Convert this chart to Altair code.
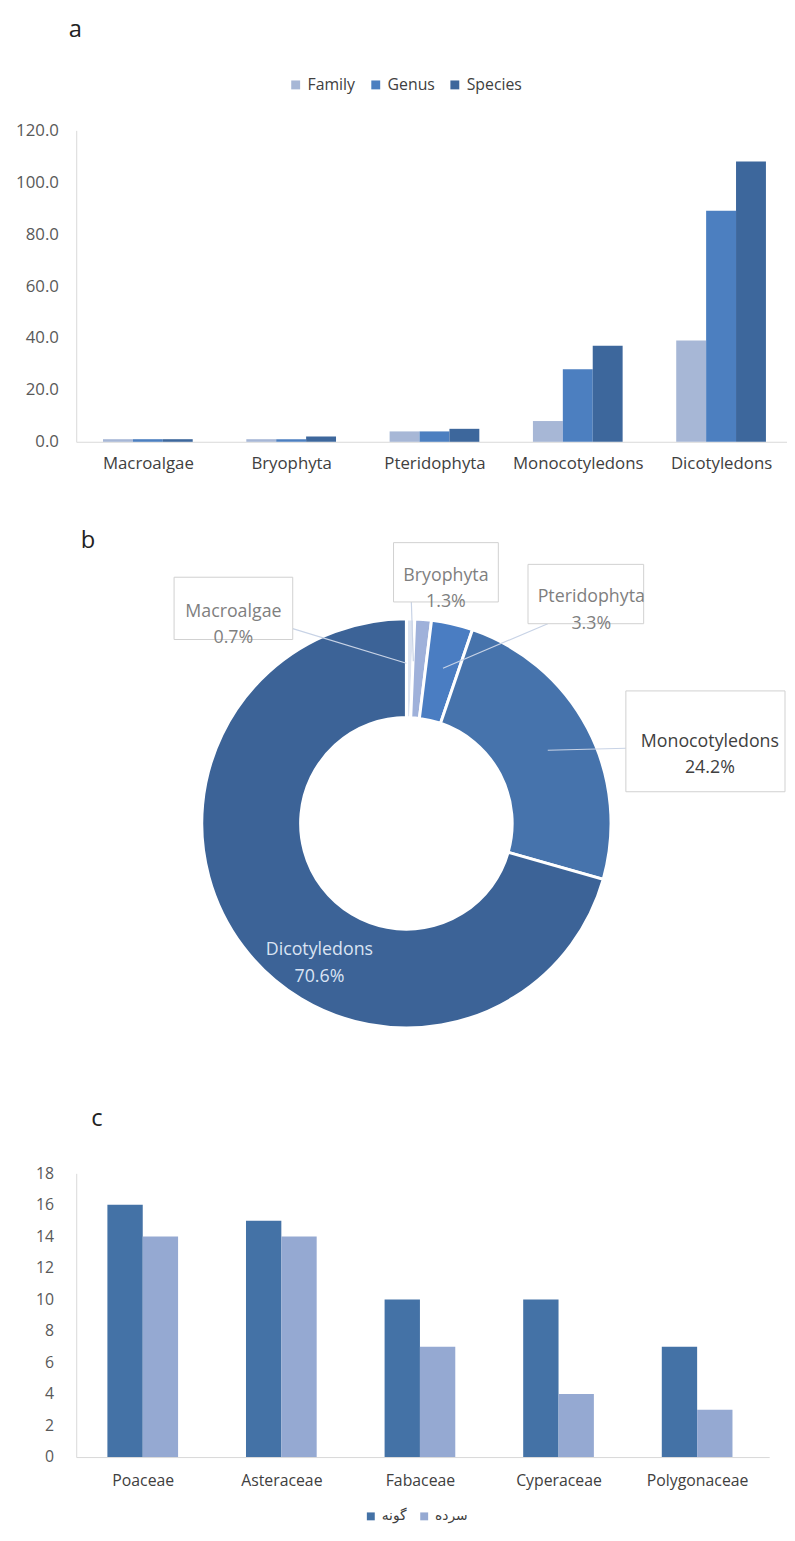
import json
import altair as alt
import pandas as pd

# ---------------- data ----------------
taxa = ["Macroalgae", "Bryophyta", "Pteridophyta", "Monocotyledons", "Dicotyledons"]
family_counts = [1, 1, 4, 8, 39]
genus_counts = [1, 1, 4, 28, 89]
species_counts = [1, 2, 5, 37, 108]
series_a = ["Family", "Genus", "Species"]
yticks_a = [0, 20, 40, 60, 80, 100, 120]

families_c = ["Poaceae", "Asteraceae", "Fabaceae", "Cyperaceae", "Polygonaceae"]
species_c = [16, 15, 10, 10, 7]
genera_c = [14, 14, 7, 4, 3]
series_c = ["گونه", "سرده"]
yticks_c = [0, 2, 4, 6, 8, 10, 12, 14, 16, 18]

# ---------------- styles ----------------
FONT = "Open Sans"
colors_a = ["#a7b7d6", "#4c7fc0", "#3d679c"]
colors_c = ["#4472a6", "#95a9d2"]
donut_colors = ["#dce3f0", "#9fb1da", "#4a7dc2", "#4673ac", "#3c6397"]
label_colors = ["#7f7f7f", "#7f7f7f", "#7f7f7f", "#404040", "#dae3f3"]
AXIS_GRAY = "#d9d9d9"

W_A, H_A = 719, 315
W_B, H_B = 719, 700
W_C, H_C = 701, 287
GROUP_A = 0.626   # fraction of each category slot covered by its bar group
GROUP_C = 0.51

# donut annotation layout (pixels inside panel b)
donut_cx, donut_cy = 334, 366
label_x = [159, 374, 521, 641, 246]
label_y = [152, 115.5, 137, 283.5, 494.5]
box_x1 = [99, 321, 457, 556]
box_x2 = [219, 427, 574, 717]
box_y1 = [117, 82, 104, 232]
box_y2 = [180, 142, 164, 334]
lead_x1 = [219, 339, 477, 556]
lead_y1 = [169, 142, 164, 290]
lead_x2 = [334, 341, 371, 477]
lead_y2 = [204, 202, 209, 292]


def letter(t, x, y):
    return alt.Chart(pd.DataFrame({"t": [t]})).mark_text(
        fontSize=24, font=FONT, color="#222222", align="center", baseline="middle"
    ).encode(text="t:N", x=alt.value(x), y=alt.value(y))


def grouped_bars(df, cats, series, colors, group_frac, dom, x_axis, y_enc, legend):
    n_s = len(series)
    bw = group_frac / n_s
    pad = (1 - group_frac) / 2
    return alt.Chart(df).transform_calculate(
        xs=f"datum.ci + {pad} + datum.si * {bw}",
        xe=f"datum.ci + {pad} + (datum.si + 1) * {bw}",
    ).mark_bar().encode(
        x=alt.X("xs:Q", scale=alt.Scale(domain=dom, nice=False, zero=False),
                axis=alt.Axis(values=[i + 0.5 for i in range(len(cats))],
                              labelExpr=f"{json.dumps(cats)}[floor(datum.value)]",
                              **x_axis)),
        x2="xe:Q",
        y=y_enc,
        y2=alt.datum(0),
        color=alt.Color("series:N", sort=series,
                        scale=alt.Scale(domain=series, range=colors), legend=legend),
    )


# ---------------- panel a ----------------
rows_a = []
for si, (s, vals) in enumerate(zip(series_a, [family_counts, genus_counts, species_counts])):
    for ci, (t, v) in enumerate(zip(taxa, vals)):
        rows_a.append({"taxon": t, "series": s, "value": v, "ci": ci, "si": si})
df_a = pd.DataFrame(rows_a)

bars_a = grouped_bars(
    df_a, taxa, series_a, colors_a, GROUP_A, [0.0, 4.96],
    dict(title=None, labelAngle=0, ticks=False, grid=False, labelFontSize=17,
         labelPadding=14, domainColor=AXIS_GRAY, labelColor="#404040", labelFont=FONT,
         labelOverlap=False),
    alt.Y("value:Q", scale=alt.Scale(domain=[0, 120], nice=False),
          axis=alt.Axis(title=None, values=yticks_a, format=".1f", ticks=False, grid=False,
                        labelPadding=18, domainColor=AXIS_GRAY, labelFontSize=17,
                        labelColor="#595959", labelFont=FONT)),
    alt.Legend(title=None, orient="none", direction="horizontal",
               legendX=214, legendY=-54, symbolType="square",
               symbolSize=81, symbolStrokeWidth=0, labelFontSize=16,
               columnPadding=12, labelFont=FONT, labelColor="#404040"),
)
panel_a = alt.layer(bars_a, letter("a", -1, -101)).properties(width=W_A, height=H_A)

# ---------------- panel b ----------------
total = sum(species_counts)
donut_df = pd.DataFrame({
    "taxon": taxa,
    "value": species_counts,
    "idx": list(range(len(taxa))),
})
arcs = alt.Chart(donut_df).mark_arc(innerRadius=107, outerRadius=207, stroke="white",
                                     strokeWidth=3).encode(
    theta=alt.Theta("value:Q", stack=True),
    order=alt.Order("idx:Q"),
    color=alt.Color("taxon:N", scale=alt.Scale(domain=taxa, range=donut_colors), legend=None),
    x=alt.value(donut_cx),
    y=alt.value(donut_cy),
)

box_df = pd.DataFrame({"x1": box_x1, "x2": box_x2, "y1": box_y1, "y2": box_y2})
boxes = alt.Chart(box_df).mark_rect(fill="white", stroke="#d0d0d0", strokeWidth=1).encode(
    x=alt.X("x1:Q", scale=None, axis=None), x2="x2:Q",
    y=alt.Y("y1:Q", scale=None, axis=None), y2="y2:Q",
)

lead_df = pd.DataFrame({"x1": lead_x1, "y1": lead_y1, "x2": lead_x2, "y2": lead_y2})
leaders = alt.Chart(lead_df).mark_rule(color="#c8d3e6", strokeWidth=1.2).encode(
    x=alt.X("x1:Q", scale=None, axis=None), x2="x2:Q",
    y=alt.Y("y1:Q", scale=None, axis=None), y2="y2:Q",
)

lab_df = pd.DataFrame({
    "label": [f"{t}\n{v / total:.1%}" for t, v in zip(taxa, species_counts)],
    "lx": label_x, "ly": label_y, "col": label_colors,
})
labels = alt.Chart(lab_df).mark_text(fontSize=18, font=FONT, lineBreak="\n", lineHeight=27,
                                     align="center", baseline="middle").encode(
    x=alt.X("lx:Q", scale=None, axis=None),
    y=alt.Y("ly:Q", scale=None, axis=None),
    text="label:N",
    color=alt.Color("col:N", scale=None),
)

panel_b = alt.layer(arcs, leaders, boxes, labels, letter("b", 12, 80)).properties(
    width=W_B, height=H_B)

# ---------------- panel c ----------------
rows_c = []
for si, (s, vals) in enumerate(zip(series_c, [species_c, genera_c])):
    for ci, (f, v) in enumerate(zip(families_c, vals)):
        rows_c.append({"family": f, "series": s, "value": v, "ci": ci, "si": si})
df_c = pd.DataFrame(rows_c)

bars_c = grouped_bars(
    df_c, families_c, series_c, colors_c, GROUP_C, [0.02, 5.02],
    dict(title=None, labelAngle=0, ticks=False, grid=False, labelFontSize=16,
         labelPadding=16, domainColor=AXIS_GRAY, labelColor="#404040", labelFont=FONT,
         labelOverlap=False),
    alt.Y("value:Q", scale=alt.Scale(domain=[0, 18], nice=False),
          axis=alt.Axis(title=None, values=yticks_c, ticks=False, grid=False,
                        labelPadding=23, domainColor=AXIS_GRAY, labelFontSize=16,
                        labelColor="#595959", labelFont=FONT)),
    alt.Legend(title=None, orient="none", direction="horizontal",
               legendX=291, legendY=340, symbolType="square",
               symbolSize=64, symbolStrokeWidth=0, labelFontSize=14,
               columnPadding=10, labelFont="DejaVu Sans", labelColor="#404040"),
)
panel_c = alt.layer(bars_c, letter("c", 21, -55)).properties(width=W_C, height=H_C)

chart = alt.vconcat(panel_a, panel_b, panel_c, spacing=20, bounds="flush").resolve_scale(
    color="independent"
).properties(
    padding={"left": 7, "top": 2, "right": 0, "bottom": 0}
).configure(font=FONT).configure_view(stroke="transparent", strokeWidth=0)

chart.save("out.html", embed_options={"renderer": "svg", "actions": False})
